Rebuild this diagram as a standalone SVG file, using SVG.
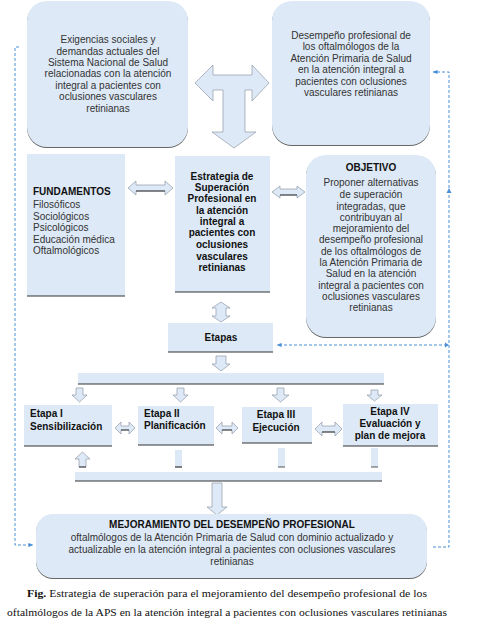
<svg xmlns="http://www.w3.org/2000/svg" width="477" height="639" viewBox="0 0 477 639">
<defs>
<style>
.bg{fill:#ffffff}
.box{fill:#dde9f6}
.sh{fill:#666666}
.edge{stroke:#333;stroke-width:1.2;fill:none}
.arr{fill:#dde9f6;stroke:#8f9aa6;stroke-width:0.7}
.t{font-family:"Liberation Sans",Arial,sans-serif;font-size:10px;fill:#333}
.b{font-family:"Liberation Sans",Arial,sans-serif;font-size:10px;font-weight:bold;fill:#111}
.c{text-anchor:middle}
.cap{font-family:"Liberation Serif","DejaVu Serif",serif;font-size:10.5px;fill:#111}
.dash{fill:none;stroke:#4a8fd8;stroke-width:1;stroke-dasharray:3 2}
</style>
<marker id="ah" viewBox="0 0 6 6" refX="5.5" refY="3" markerWidth="5" markerHeight="5" orient="auto">
<path d="M0,0.5 L6,3 L0,5.5 Z" fill="#4a8fd8"/>
</marker>
</defs>
<rect class="bg" x="0" y="0" width="477" height="639"/>

<g id="connectors">
<path class="dash" d="M19,47 H15 V545 H33" marker-end="url(#ah)"/>
<path class="dash" d="M433,547 H449 V72 H433" marker-end="url(#ah)"/>
<path d="M449,188 l-2.5,5 h5 Z" fill="#4a8fd8"/>
<path class="dash" d="M447,345 H277" marker-end="url(#ah)"/>
<path d="M449,345 l-4,-2.5 v5 Z" fill="#4a8fd8"/>
<polygon class="arr" points="195,83 213,65 213,75 252,75 252,65 269,83 252,101 252,90 245,90 245,132 256,132 234,148 212,132 223,132 223,90 213,90 213,101"/>
<polygon class="arr" points="128,188 136,181 136,185 165,185 165,181 173,188 165,195 165,191 136,191 136,195"/>
<line x1="136" y1="191" x2="165" y2="191" stroke="#333" stroke-width="1"/>
<polygon class="arr" points="272,192 280,186 280,189 297,189 297,186 305,192 297,198 297,195 280,195 280,198"/>
<line x1="280" y1="195" x2="297" y2="195" stroke="#333" stroke-width="1"/>
<polygon class="arr" points="221,302 230,308 226,308 226,316 230,316 221,322 212,316 216,316 216,308 212,308"/>
<polygon class="arr" points="216,356 226,356 226,364 230,364 221,371 212,364 216,364"/>
<polygon class="arr" points="76,388 83,388 83,395 87,395 79.5,402 72,395 76,395"/>
<polygon class="arr" points="177,388 184,388 184,395 188,395 180.5,402 173,395 177,395"/>
<polygon class="arr" points="277,388 284,388 284,395 289,395 280.5,402 272,395 277,395"/>
<polygon class="arr" points="371,390 378,390 378,395 382,395 374.5,401 367,395 371,395"/>
<polygon class="arr" points="115,428 121,422 121,426 129,426 129,422 135,428 129,434 129,430 121,430 121,434"/>
<line x1="121" y1="430" x2="129" y2="430" stroke="#333" stroke-width="1"/>
<polygon class="arr" points="216,428 222,422 222,426 232,426 232,422 238,428 232,434 232,430 222,430 222,434"/>
<line x1="222" y1="430" x2="232" y2="430" stroke="#333" stroke-width="1"/>
<polygon class="arr" points="315,429 322,422 322,426 335,426 335,422 342,429 335,436 335,432 322,432 322,436"/>
<line x1="322" y1="432" x2="335" y2="432" stroke="#333" stroke-width="1"/>
<polygon class="arr" points="82.5,452 90,459 86,459 86,467 79,467 79,459 75,459"/>
<line x1="79" y1="467" x2="86" y2="467" stroke="#333" stroke-width="1"/>
<rect class="box" x="175" y="450" width="7" height="17"/>
<line x1="175" y1="467" x2="182" y2="467" stroke="#333" stroke-width="1.2"/>
<rect class="box" x="278" y="448" width="7" height="19"/>
<line x1="278" y1="467" x2="285" y2="467" stroke="#555" stroke-width="1"/>
<rect class="box" x="371" y="448" width="7" height="19"/>
<line x1="371" y1="467" x2="378" y2="467" stroke="#555" stroke-width="1"/>
<polygon class="arr" points="212,483 222,483 222,507 227,507 217,515 207,507 212,507"/>
</g>

<g id="exigencias">
<rect class="sh" x="27" y="2" width="161" height="146" rx="20"/>
<rect class="box" x="27" y="1" width="161" height="146" rx="20"/>
<text class="t c" x="108" y="43">Exigencias sociales y</text>
<text class="t c" x="108" y="55">demandas actuales del</text>
<text class="t c" x="108" y="66">Sistema Nacional de Salud</text>
<text class="t c" x="108" y="77">relacionadas con la atención</text>
<text class="t c" x="108" y="89">integral a pacientes con</text>
<text class="t c" x="108" y="100">oclusiones vasculares</text>
<text class="t c" x="108" y="112">retinianas</text>
</g>

<g id="desempeno">
<rect class="sh" x="272" y="2" width="158" height="144" rx="20"/>
<rect class="box" x="272" y="1" width="158" height="144" rx="20"/>
<text class="t c" x="351" y="39">Desempeño profesional de</text>
<text class="t c" x="351" y="50">los oftalmólogos de la</text>
<text class="t c" x="351" y="62">Atención Primaria de Salud</text>
<text class="t c" x="351" y="73">en la atención integral a</text>
<text class="t c" x="351" y="85">pacientes con oclusiones</text>
<text class="t c" x="351" y="96">vasculares retinianas</text>
</g>

<g id="fundamentos">
<rect class="box" x="27" y="154" width="98" height="142"/>
<line class="edge" x1="27" y1="296" x2="125" y2="296"/>
<text class="b" x="33" y="195">FUNDAMENTOS</text>
<text class="t" x="33" y="208">Filosóficos</text>
<text class="t" x="33" y="220">Sociológicos</text>
<text class="t" x="33" y="231">Psicológicos</text>
<text class="t" x="33" y="243">Educación médica</text>
<text class="t" x="33" y="254">Oftalmológicos</text>
</g>

<g id="estrategia">
<rect class="box" x="175" y="156" width="95" height="136"/>
<line class="edge" x1="175" y1="292" x2="270" y2="292"/>
<text class="b c" x="222" y="180">Estrategia de</text>
<text class="b c" x="222" y="191">Superación</text>
<text class="b c" x="222" y="202">Profesional en</text>
<text class="b c" x="222" y="214">la atención</text>
<text class="b c" x="222" y="225">integral a</text>
<text class="b c" x="222" y="236">pacientes con</text>
<text class="b c" x="222" y="248">oclusiones</text>
<text class="b c" x="222" y="260">vasculares</text>
<text class="b c" x="222" y="271">retinianas</text>
</g>

<g id="objetivo">
<rect class="sh" x="306" y="156" width="130" height="182" rx="20"/>
<rect class="box" x="306" y="155" width="130" height="182" rx="20"/>
<text class="b c" x="371" y="171">OBJETIVO</text>
<text class="t c" x="371" y="186">Proponer alternativas</text>
<text class="t c" x="371" y="198">de superación</text>
<text class="t c" x="371" y="210">integradas, que</text>
<text class="t c" x="371" y="221">contribuyan al</text>
<text class="t c" x="371" y="232">mejoramiento del</text>
<text class="t c" x="371" y="243">desempeño profesional</text>
<text class="t c" x="371" y="255">de los oftalmólogos de</text>
<text class="t c" x="371" y="266">la Atención Primaria de</text>
<text class="t c" x="371" y="277">Salud en la atención</text>
<text class="t c" x="371" y="289">integral a pacientes con</text>
<text class="t c" x="371" y="300">oclusiones vasculares</text>
<text class="t c" x="371" y="311">retinianas</text>
</g>

<g id="etapas">
<rect class="box" x="168" y="323" width="105" height="29"/>
<line class="edge" x1="168" y1="352" x2="273" y2="352"/>
<text class="b c" x="221" y="341">Etapas</text>
</g>

<g id="bar-top">
<rect class="box" x="78" y="373" width="306" height="11"/>
<line class="edge" x1="78" y1="384" x2="384" y2="384"/>
</g>

<g id="etapa1">
<rect class="box" x="24" y="405" width="88" height="41"/>
<line class="edge" x1="24" y1="446" x2="112" y2="446"/>
<text class="b" x="30" y="417">Etapa I</text>
<text class="b" x="30" y="430">Sensibilización</text>
</g>

<g id="etapa2">
<rect class="box" x="138" y="406" width="76" height="39"/>
<line class="edge" x1="138" y1="445" x2="214" y2="445"/>
<text class="b" x="144" y="417">Etapa II</text>
<text class="b" x="144" y="429">Planificación</text>
</g>

<g id="etapa3">
<rect class="box" x="242" y="407" width="70" height="36"/>
<line class="edge" x1="242" y1="443" x2="312" y2="443" stroke-width="1.6"/>
<text class="b c" x="276" y="418">Etapa III</text>
<text class="b c" x="276" y="431">Ejecución</text>
</g>

<g id="etapa4">
<rect class="box" x="343" y="404" width="95" height="42"/>
<line class="edge" x1="343" y1="446" x2="438" y2="446"/>
<text class="b c" x="390" y="415">Etapa IV</text>
<text class="b c" x="390" y="427">Evaluación y</text>
<text class="b c" x="390" y="439">plan de mejora</text>
</g>

<g id="bar-bottom">
<rect class="box" x="75" y="472" width="307" height="9"/>
<line class="edge" x1="75" y1="481" x2="382" y2="481"/>
</g>

<g id="mejoramiento">
<rect class="sh" x="36" y="515" width="391" height="64" rx="17"/>
<rect class="box" x="36" y="514" width="391" height="64" rx="17"/>
<text class="b c" x="232" y="528">MEJORAMIENTO DEL DESEMPEÑO PROFESIONAL</text>
<text class="t c" x="232" y="541">oftalmólogos de la Atención Primaria de Salud con dominio actualizado y</text>
<text class="t c" x="232" y="553">actualizable en la atención integral a pacientes con oclusiones vasculares</text>
<text class="t c" x="232" y="565">retinianas</text>
</g>

<g id="caption">
<text class="cap" x="27" y="597" textLength="400" lengthAdjust="spacingAndGlyphs"><tspan font-weight="bold">Fig.</tspan> Estrategia de superación para el mejoramiento del desempeño profesional de los</text>
<text class="cap" x="7" y="616" textLength="440" lengthAdjust="spacingAndGlyphs">oftalmólogos de la APS en la atención integral a pacientes con oclusiones vasculares retinianas</text>
</g>
</svg>
